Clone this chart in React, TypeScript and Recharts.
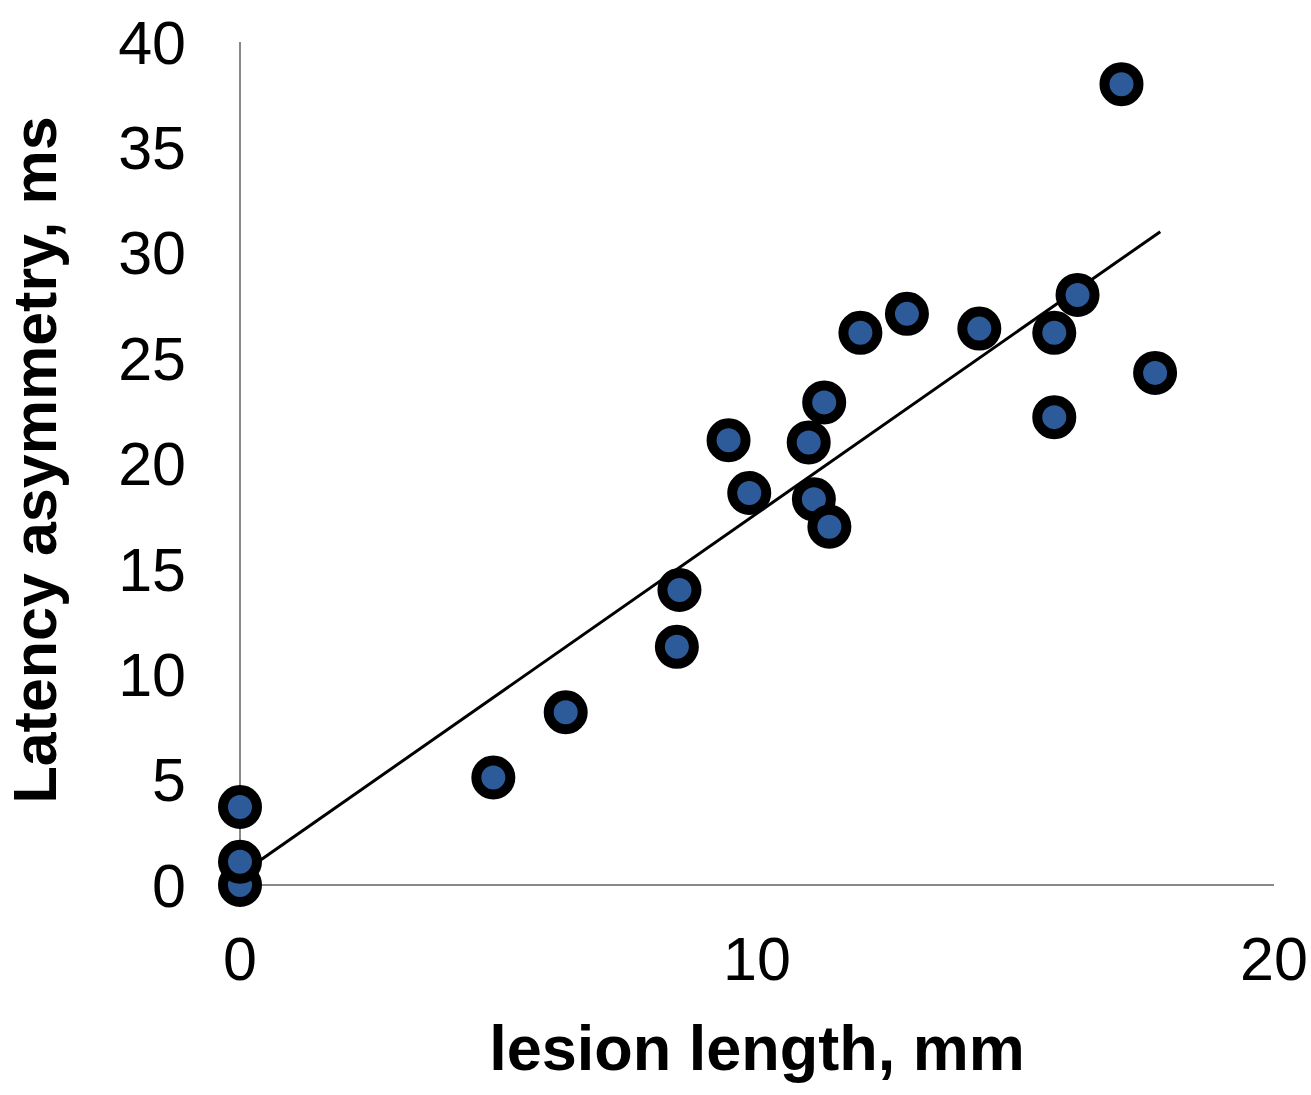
import React from "react";
import { ComposedChart, Scatter, XAxis, YAxis, ReferenceLine, Label } from "recharts";

const lesionLength = [0, 0, 0, 4.9, 6.3, 8.45, 8.5, 9.45, 9.85, 11.0, 11.1, 11.3, 11.4, 12.0, 12.9, 14.3, 15.75, 15.75, 16.2, 17.05, 17.7];
const latencyAsymmetry = [0, 1.1, 3.7, 5.1, 8.2, 11.3, 14.0, 21.1, 18.6, 21.0, 18.3, 22.9, 17.0, 26.2, 27.1, 26.4, 26.2, 22.2, 28.0, 38.0, 24.3];
const trendX = [0, 17.8];
const trendY = [0.5, 31.0];
const xTicks = [0, 10, 20];
const yTicks = [0, 5, 10, 15, 20, 25, 30, 35, 40];

const points = lesionLength.map((x, i) => ({ x, y: latencyAsymmetry[i] }));
const trendSegment = trendX.map((x, i) => ({ x, y: trendY[i] }));

const FONT = "'Liberation Sans', Arial, sans-serif";

const Marker = (props: any) => (
  <circle cx={props.cx} cy={props.cy} r={17} fill="#2d5b9a" stroke="#000" strokeWidth={10} />
);

export default function App() {
  return (
    <div style={{ position: "absolute", left: 0, top: 0, background: "#fff" }}>
      <ComposedChart width={1311} height={1095} margin={{ top: 42, right: 37, bottom: 0, left: 0 }}>
        <XAxis
          type="number"
          dataKey="x"
          domain={[0, 20]}
          ticks={xTicks}
          height={210}
          tickLine={false}
          tickSize={0}
          tickMargin={52}
          axisLine={{ stroke: "#888", strokeWidth: 2 }}
          tick={{ fill: "#000", fontSize: 61, fontFamily: FONT }}
        >
          <Label
            content={() => (
              <text x={757} y={1070} textAnchor="middle" fontFamily={FONT} fontWeight="bold" fontSize={63} fill="#000">
                lesion length, mm
              </text>
            )}
          />
        </XAxis>
        <YAxis
          type="number"
          dataKey="y"
          domain={[0, 40]}
          ticks={yTicks}
          width={240}
          tickLine={false}
          tickSize={0}
          tickMargin={54}
          axisLine={{ stroke: "#888", strokeWidth: 2 }}
          tick={{ fill: "#000", fontSize: 61, fontFamily: FONT }}
        >
          <Label
            content={() => (
              <text
                x={56}
                y={460}
                transform="rotate(-90 56 460)"
                textAnchor="middle"
                fontFamily={FONT}
                fontWeight="bold"
                fontSize={61}
                fill="#000"
              >
                Latency asymmetry, ms
              </text>
            )}
          />
        </YAxis>
        <Scatter data={points} dataKey="y" shape={Marker} isAnimationActive={false} />
        <ReferenceLine segment={trendSegment} stroke="#000" strokeWidth={3} ifOverflow="visible" />
      </ComposedChart>
    </div>
  );
}
